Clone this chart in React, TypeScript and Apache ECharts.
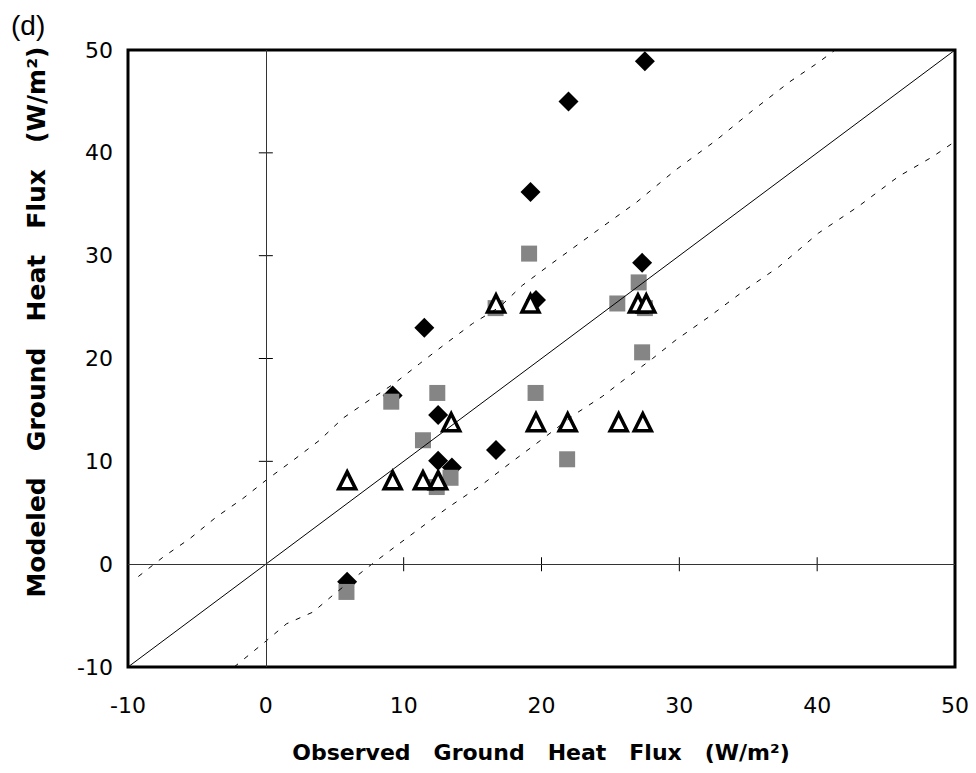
import React, { useEffect, useRef } from 'react';
import * as echarts from 'echarts';

// Tick range
const axisMin = -10;
const axisMax = 50;
const axisStep = 10;

// Marker data [observed, modeled]
const diamondData = [
  [27.5, 48.9], [21.96, 45.0], [19.2, 36.2], [27.3, 29.3], [19.6, 25.7], [11.5, 23.0],
  [9.2, 16.4], [12.5, 14.5], [12.5, 10.05], [13.5, 9.4], [16.7, 11.1], [5.9, -1.7],
];
const squareData = [
  [19.1, 30.2], [27.05, 27.4], [16.67, 24.9], [25.5, 25.35], [27.5, 24.9], [27.3, 20.6],
  [12.44, 16.65], [19.57, 16.65], [9.1, 15.8], [11.4, 12.05], [21.86, 10.2], [13.4, 8.4],
  [12.4, 7.5], [5.85, -2.7],
];
const triangleData = [
  [16.7, 25.35], [19.2, 25.35], [27.0, 25.35], [27.6, 25.35], [13.45, 13.8], [19.6, 13.8],
  [21.9, 13.8], [25.6, 13.8], [27.35, 13.8], [5.9, 8.15], [9.2, 8.15], [11.4, 8.15], [12.5, 8.15],
];

// 1:1 line and dashed envelope lines
const oneToOne = [[-10, -10], [50, 50]];
const upperDashed = [
  [-9.25, -1.2], [-7.44, 0.7], [-5.5, 2.5], [-3.58, 4.6], [-1.65, 6.4], [0.05, 8.2],
  [1.98, 10.1], [3.9, 12.05], [5.6, 14.2], [7.5, 15.95], [9.35, 17.6], [11.16, 19.5],
  [13.1, 21.5], [15.0, 23.4], [16.96, 25.0], [18.6, 27.1], [20.6, 29.1], [24.2, 32.6],
  [26.9, 35.2], [29.7, 38.3], [32.65, 41.2], [35.3, 44.1], [38.0, 46.9], [40.1, 48.8],
  [41.3, 50],
];
const lowerDashed = [
  [-2.3, -10], [-0.07, -7.57], [1.5, -5.8], [3.43, -4.65], [4.88, -3.0], [7.3, -0.4],
  [9.35, 1.67], [13.1, 5.4], [15.75, 7.8], [17.7, 9.8], [19.6, 11.7], [22.5, 14.65],
  [24.4, 16.3], [26.1, 18.05], [28.06, 20.0], [29.75, 21.8], [32.2, 24.1], [34.6, 26.5],
  [37.2, 28.9], [40.1, 32.2], [43.0, 34.8], [45.9, 37.7], [48.35, 39.6], [50, 41.1],
];

// Small crossing tick marks on the zero lines
const ticksOnYZero = [[10, 0], [20, 0], [30, 0], [40, 0]];
const ticksOnXZero = [[0, 10], [0, 20], [0, 30], [0, 40]];

const xTitle = 'Observed   Ground   Heat   Flux   (W/m\u00b2)';
const yTitle = 'Modeled   Ground   Heat   Flux   (W/m\u00b2)';
const panelLabel = '(d)';

export default function App() {
  const ref = useRef<HTMLDivElement>(null);

  useEffect(() => {
    if (!ref.current) return;
    const chart = echarts.init(ref.current, undefined, { renderer: 'svg' });
    const labelStyle = {
      color: '#000',
      fontSize: 22,
      fontFamily: 'DejaVu Sans',
    };
    chart.setOption({
      animation: false,
      backgroundColor: '#fff',
      grid: {
        left: 128,
        right: 21,
        top: 50,
        bottom: 106,
        show: true,
        borderColor: '#000',
        borderWidth: 3,
        backgroundColor: 'transparent',
      },
      xAxis: {
        type: 'value',
        min: axisMin,
        max: axisMax,
        interval: axisStep,
        axisLine: { show: false },
        axisTick: { show: false },
        splitLine: { show: false },
        axisLabel: { ...labelStyle, margin: 27 },
      },
      yAxis: {
        type: 'value',
        min: axisMin,
        max: axisMax,
        interval: axisStep,
        axisLine: { show: false },
        axisTick: { show: false },
        splitLine: { show: false },
        axisLabel: { ...labelStyle, margin: 15 },
      },
      graphic: [
        {
          type: 'text',
          x: 11,
          y: 11,
          style: {
            text: panelLabel,
            fontSize: 28,
            fontFamily: 'Liberation Sans',
            fill: '#000',
            textAlign: 'left',
            textVerticalAlign: 'top',
          },
        },
        {
          type: 'text',
          x: 541,
          y: 752,
          style: {
            text: xTitle,
            fontSize: 22,
            fontWeight: 'bold',
            fontFamily: 'DejaVu Sans',
            fill: '#000',
            textAlign: 'center',
            textVerticalAlign: 'middle',
          },
        },
        {
          type: 'text',
          x: 36,
          y: 322,
          rotation: Math.PI / 2,
          style: {
            text: yTitle,
            fontSize: 25,
            fontWeight: 'bold',
            fontFamily: 'DejaVu Sans',
            fill: '#000',
            textAlign: 'center',
            textVerticalAlign: 'middle',
          },
        },
      ],
      series: [
        {
          type: 'line',
          data: oneToOne,
          showSymbol: false,
          silent: true,
          lineStyle: { color: '#000', width: 1 },
          markLine: {
            silent: true,
            symbol: 'none',
            label: { show: false },
            lineStyle: { color: '#333', width: 1, type: 'solid' },
            data: [{ xAxis: 0 }, { yAxis: 0 }],
          },
        },
        {
          type: 'line',
          data: upperDashed,
          showSymbol: false,
          silent: true,
          lineStyle: { color: '#000', width: 1, type: [5, 8] },
        },
        {
          type: 'line',
          data: lowerDashed,
          showSymbol: false,
          silent: true,
          lineStyle: { color: '#000', width: 1, type: [5, 8] },
        },
        {
          type: 'scatter',
          data: ticksOnYZero,
          symbol: 'rect',
          symbolSize: [1, 14],
          silent: true,
          itemStyle: { color: '#000', opacity: 1 },
        },
        {
          type: 'scatter',
          data: ticksOnXZero,
          symbol: 'rect',
          symbolSize: [14, 1],
          silent: true,
          itemStyle: { color: '#000', opacity: 1 },
        },
        {
          type: 'scatter',
          data: diamondData,
          symbol: 'diamond',
          symbolSize: 20,
          itemStyle: { color: '#000', opacity: 1 },
        },
        {
          type: 'scatter',
          data: squareData,
          symbol: 'rect',
          symbolSize: 16,
          itemStyle: { color: '#858585', opacity: 1 },
        },
        {
          type: 'scatter',
          data: triangleData,
          symbol: 'triangle',
          symbolSize: 17,
          itemStyle: { color: '#fff', borderColor: '#000', borderWidth: 3.5, opacity: 1 },
        },
      ],
    });
    return () => chart.dispose();
  }, []);

  return (
    <div
      ref={ref}
      style={{ position: 'absolute', left: 0, top: 0, width: 976, height: 773 }}
    />
  );
}
